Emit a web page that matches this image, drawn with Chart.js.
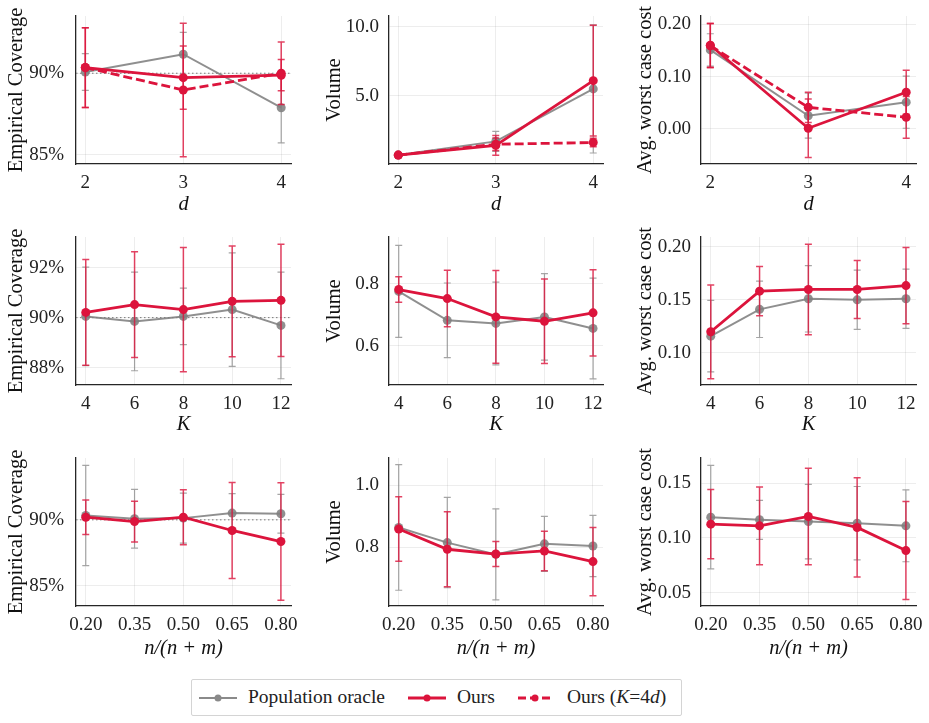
<!DOCTYPE html>
<html>
<head>
<meta charset="utf-8">
<script src="https://cdn.jsdelivr.net/npm/chart.js@4.4.0/dist/chart.umd.min.js"></script>
<style>
  body {
    margin: 0;
    width: 929px;
    height: 723px;
    position: relative;
    overflow: hidden;
    background: #fff;
    font-family: 'Liberation Serif', serif;
  }
  canvas { position: absolute; }
  #legend {
    position: absolute;
    left: 191px;
    top: 679px;
    width: 489px;
    height: 35px;
    border: 1px solid #d4d4d4;
    border-radius: 2px;
    font-size: 19.5px;
    color: #222;
  }
  #legend svg, #legend span { position: absolute; }
  #legend span { top: 6px; white-space: nowrap; }
  #legend svg { top: 12px; }
</style>
</head>
<body>
<div id="legend">
  <svg style="left:7px" width="38" height="12"><line x1="0" y1="6" x2="38" y2="6" stroke="#8a8a8a" stroke-width="2"/><circle cx="19" cy="6" r="3.5" fill="#8a8a8a"/></svg>
  <span style="left:56px">Population oracle</span>
  <svg style="left:216px" width="38" height="12"><line x1="0" y1="6" x2="38" y2="6" stroke="#dc143c" stroke-width="2.8"/><circle cx="19" cy="6" r="3.5" fill="#dc143c"/></svg>
  <span style="left:265px">Ours</span>
  <svg style="left:326px" width="34" height="12"><line x1="0" y1="6" x2="34" y2="6" stroke="#dc143c" stroke-width="2.8" stroke-dasharray="8 4"/><circle cx="17" cy="6" r="3.5" fill="#dc143c"/></svg>
  <span style="left:375px">Ours (<i>K</i>=4<i>d</i>)</span>
</div>
<script>
const dValues = [2, 3, 4]
const kValues = [4, 6, 8, 10, 12]
const ratioValues = [0.2, 0.35, 0.5, 0.65, 0.8]
const TARGET_COVERAGE = 90

// row 1: against d
const covDOracle = [90.08, 91.17, 87.88]
const covDOracleErr = [1.13, 1.34, 2.16]
const covDOurs = [90.35, 89.73, 89.88]
const covDOursErr = [2.45, 1.95, 0.96]
const covDOursK = [90.35, 88.97, 90.0]
const covDOursKErr = [2.45, 4.1, 1.92]

const volDOracle = [0.72, 1.71, 5.5]
const volDOracleErr = [0.05, 0.72, 4.63]
const volDOurs = [0.72, 1.42, 6.1]
const volDOursErr = [0.05, 0.72, 4.0]
const volDOursK = [0.72, 1.5, 1.63]
const volDOursKErr = [0.05, 0.45, 0.3]

const costDOracle = [0.151, 0.025, 0.051]
const costDOracleErr = [0.031, 0.043, 0.05]
const costDOurs = [0.16, 0.001, 0.07]
const costDOursErr = [0.042, 0.056, 0.042]
const costDOursK = [0.159, 0.041, 0.022]
const costDOursKErr = [0.042, 0.029, 0.04]

// row 2: against K
const covKOracle = [90.05, 89.85, 90.05, 90.32, 89.69]
const covKOracleErr = [1.97, 1.97, 1.13, 2.27, 2.13]
const covKOurs = [90.21, 90.52, 90.32, 90.65, 90.69]
const covKOursErr = [2.11, 2.11, 2.48, 2.21, 2.24]

const volKOracle = [0.775, 0.682, 0.672, 0.693, 0.656]
const volKOracleErr = [0.148, 0.12, 0.133, 0.139, 0.162]
const volKOurs = [0.781, 0.752, 0.693, 0.679, 0.706]
const volKOursErr = [0.041, 0.091, 0.149, 0.136, 0.139]

const costKOracle = [0.1157, 0.141, 0.151, 0.15, 0.151]
const costKOracleErr = [0.0337, 0.0266, 0.0314, 0.028, 0.028]
const costKOurs = [0.1198, 0.1582, 0.1598, 0.1598, 0.1635]
const costKOursErr = [0.0443, 0.0233, 0.0428, 0.0274, 0.036]

// row 3: against n/(n+m)
const covROracle = [90.33, 90.08, 90.13, 90.51, 90.46]
const covROracleErr = [3.81, 2.23, 1.9, 1.48, 1.47]
const covROurs = [90.2, 89.87, 90.2, 89.19, 88.35]
const covROursErr = [1.31, 1.55, 2.09, 3.65, 4.47]

const volROracle = [0.864, 0.815, 0.777, 0.811, 0.804]
const volROracleErr = [0.203, 0.146, 0.147, 0.089, 0.099]
const volROurs = [0.859, 0.7935, 0.778, 0.788, 0.7535]
const volROursErr = [0.104, 0.1216, 0.0405, 0.064, 0.11]

const costROracle = [0.1189, 0.1165, 0.1149, 0.1134, 0.111]
const costROracleErr = [0.0473, 0.0178, 0.034, 0.0335, 0.0328]
const costROurs = [0.1125, 0.111, 0.1195, 0.1095, 0.0884]
const costROursErr = [0.0316, 0.0355, 0.044, 0.0453, 0.0447]

// axis ticks and ranges
const dRange = [1.905, 4.1]
const kRange = [3.6, 12.41]
const ratioRange = [0.17, 0.831]
const covDTicks = [85, 90], covDRange = [84.42, 93.52]
const volDTicks = [5, 10], volDRange = [0.076, 10.77]
const costDTicks = [0, 0.1, 0.2], costDRange = [-0.0675, 0.216]
const covKTicks = [88, 90, 92], covKRange = [87.31, 93.22]
const volKTicks = [0.6, 0.8], volKRange = [0.474, 0.95]
const costKTicks = [0.1, 0.15, 0.2], costKRange = [0.0695, 0.2094]
const covRTicks = [85, 90], covRRange = [83.45, 94.7]
const volRTicks = [0.8, 1.0], volRRange = [0.61, 1.0886]
const costRTicks = [0.05, 0.1, 0.15], costRRange = [0.0378, 0.1729]

const RED = '#dc143c'
const GREY = 'rgba(128,128,128,0.88)'
const FONT = "'Liberation Serif', serif"

// layout of the 3x3 grid (pixels)
const cols = [
  { left: 0, axisW: 76, right: 291, tickPad: 12 },
  { left: 318, axisW: 71, right: 603, tickPad: 10 },
  { left: 629, axisW: 72, right: 916, tickPad: 10 }
]
const rows = [
  { top: 0, areaTop: 16, areaBottom: 164, axisH: 57 },
  { top: 221, areaTop: 237, areaBottom: 385, axisH: 56 },
  { top: 442, areaTop: 458, areaBottom: 606, axisH: 59 }
]

const errorBars = {
  id: 'errorBars',
  beforeDatasetDraw(chart, args) {
    const ds = chart.data.datasets[args.index]
    if (!ds.err) return
    const { ctx } = chart
    const xs = chart.scales.x
    const ys = chart.scales.y
    ctx.save()
    ctx.strokeStyle = ds.errColor
    ctx.lineWidth = ds.errWidth
    ds.data.forEach((p, i) => {
      const x = xs.getPixelForValue(p.x)
      const top = ys.getPixelForValue(p.y + ds.err[i])
      const bot = ys.getPixelForValue(p.y - ds.err[i])
      ctx.beginPath()
      ctx.moveTo(x, top)
      ctx.lineTo(x, bot)
      ctx.moveTo(x - 3.5, top)
      ctx.lineTo(x + 3.5, top)
      ctx.moveTo(x - 3.5, bot)
      ctx.lineTo(x + 3.5, bot)
      ctx.stroke()
    })
    ctx.restore()
  }
}

const targetLine = {
  id: 'targetLine',
  beforeDatasetsDraw(chart, args, opts) {
    if (opts.value === undefined) return
    const { ctx, chartArea } = chart
    const y = chart.scales.y.getPixelForValue(opts.value)
    ctx.save()
    ctx.strokeStyle = '#777'
    ctx.lineWidth = 1
    ctx.setLineDash([1.5, 2.5])
    ctx.beginPath()
    ctx.moveTo(chartArea.left, y)
    ctx.lineTo(chartArea.right, y)
    ctx.stroke()
    ctx.restore()
  }
}

const pts = (xs, ys) => xs.map((x, i) => ({ x, y: ys[i] }))

const oracle = (xs, ys, err) => ({
  label: 'Population oracle',
  data: pts(xs, ys),
  err,
  errColor: 'rgba(128,128,128,0.7)',
  errWidth: 1.2,
  borderColor: GREY,
  backgroundColor: GREY,
  borderWidth: 2,
  pointRadius: 4.5,
  pointBorderWidth: 0,
  order: 3
})

const ours = (xs, ys, err) => ({
  label: 'Ours',
  data: pts(xs, ys),
  err,
  errColor: 'rgba(220,20,60,0.8)',
  errWidth: 1.5,
  borderColor: RED,
  backgroundColor: RED,
  borderWidth: 2.8,
  pointRadius: 4.5,
  pointBorderWidth: 0,
  order: 1
})

const oursK = (xs, ys, err) => ({
  ...ours(xs, ys, err),
  label: 'Ours (K=4d)',
  borderDash: [9, 4],
  order: 2
})

const pct = v => v + '%'
const fix = n => v => Number(v).toFixed(n)

const panels = [
  { row: 0, col: 0, xv: dValues, xr: dRange, xf: fix(0), xt: 'd', yt: 'Empirical Coverage', yv: covDTicks, yr: covDRange, yf: pct, target: TARGET_COVERAGE,
    sets: [oracle(dValues, covDOracle, covDOracleErr), ours(dValues, covDOurs, covDOursErr), oursK(dValues, covDOursK, covDOursKErr)] },
  { row: 0, col: 1, xv: dValues, xr: dRange, xf: fix(0), xt: 'd', yt: 'Volume', yv: volDTicks, yr: volDRange, yf: fix(1),
    sets: [oracle(dValues, volDOracle, volDOracleErr), ours(dValues, volDOurs, volDOursErr), oursK(dValues, volDOursK, volDOursKErr)] },
  { row: 0, col: 2, xv: dValues, xr: dRange, xf: fix(0), xt: 'd', yt: 'Avg. worst case cost', yv: costDTicks, yr: costDRange, yf: fix(2),
    sets: [oracle(dValues, costDOracle, costDOracleErr), ours(dValues, costDOurs, costDOursErr), oursK(dValues, costDOursK, costDOursKErr)] },
  { row: 1, col: 0, xv: kValues, xr: kRange, xf: fix(0), xt: 'K', yt: 'Empirical Coverage', yv: covKTicks, yr: covKRange, yf: pct, target: TARGET_COVERAGE,
    sets: [oracle(kValues, covKOracle, covKOracleErr), ours(kValues, covKOurs, covKOursErr)] },
  { row: 1, col: 1, xv: kValues, xr: kRange, xf: fix(0), xt: 'K', yt: 'Volume', yv: volKTicks, yr: volKRange, yf: fix(1),
    sets: [oracle(kValues, volKOracle, volKOracleErr), ours(kValues, volKOurs, volKOursErr)] },
  { row: 1, col: 2, xv: kValues, xr: kRange, xf: fix(0), xt: 'K', yt: 'Avg. worst case cost', yv: costKTicks, yr: costKRange, yf: fix(2),
    sets: [oracle(kValues, costKOracle, costKOracleErr), ours(kValues, costKOurs, costKOursErr)] },
  { row: 2, col: 0, xv: ratioValues, xr: ratioRange, xf: fix(2), xt: 'n/(n + m)', yt: 'Empirical Coverage', yv: covRTicks, yr: covRRange, yf: pct, target: TARGET_COVERAGE,
    sets: [oracle(ratioValues, covROracle, covROracleErr), ours(ratioValues, covROurs, covROursErr)] },
  { row: 2, col: 1, xv: ratioValues, xr: ratioRange, xf: fix(2), xt: 'n/(n + m)', yt: 'Volume', yv: volRTicks, yr: volRRange, yf: fix(1),
    sets: [oracle(ratioValues, volROracle, volROracleErr), ours(ratioValues, volROurs, volROursErr)] },
  { row: 2, col: 2, xv: ratioValues, xr: ratioRange, xf: fix(2), xt: 'n/(n + m)', yt: 'Avg. worst case cost', yv: costRTicks, yr: costRRange, yf: fix(2),
    sets: [oracle(ratioValues, costROracle, costROracleErr), ours(ratioValues, costROurs, costROursErr)] }
]

const gridStyle = { color: 'rgba(0,0,0,0.07)', lineWidth: 1, drawTicks: false }
const borderStyle = { display: true, color: '#262626', width: 1.3 }

// pin the plot area: fixed axis sizes, no automatic label overflow padding
const pinX = h => s => {
  s.height = h
  s.paddingLeft = 0
  s.paddingRight = 0
}
const pinY = w => s => {
  s.width = w
  s.paddingTop = 0
  s.paddingBottom = 0
}

panels.forEach(p => {
  const c = cols[p.col]
  const r = rows[p.row]
  const padTop = r.areaTop - r.top
  const padRight = 20
  const canvas = document.createElement('canvas')
  canvas.width = c.right + padRight - c.left
  canvas.height = r.areaBottom + r.axisH - r.top
  canvas.style.left = c.left + 'px'
  canvas.style.top = r.top + 'px'
  document.body.appendChild(canvas)

  new Chart(canvas.getContext('2d'), {
    type: 'line',
    data: { datasets: p.sets },
    plugins: [errorBars, targetLine],
    options: {
      responsive: false,
      animation: false,
      devicePixelRatio: 1,
      layout: { padding: { top: padTop, right: padRight, left: 0, bottom: 0 } },
      scales: {
        x: {
          type: 'linear',
          min: p.xr[0],
          max: p.xr[1],
          afterBuildTicks: s => { s.ticks = p.xv.map(value => ({ value })) },
          afterFit: pinX(r.axisH),
          ticks: { callback: p.xf, color: '#222', padding: 7.5, maxRotation: 0, font: { family: FONT, size: 19 } },
          grid: gridStyle,
          border: borderStyle,
          title: { display: true, text: p.xt, color: '#111', font: { family: FONT, size: 20.5, style: 'italic' } }
        },
        y: {
          type: 'linear',
          min: p.yr[0],
          max: p.yr[1],
          afterBuildTicks: s => { s.ticks = p.yv.map(value => ({ value })) },
          afterFit: pinY(c.axisW),
          ticks: { callback: p.yf, color: '#222', padding: c.tickPad, font: { family: FONT, size: 19 } },
          grid: gridStyle,
          border: borderStyle,
          title: { display: true, text: p.yt, color: '#111', font: { family: FONT, size: 20.5 } }
        }
      },
      plugins: {
        legend: { display: false },
        tooltip: { enabled: false },
        targetLine: { value: p.target }
      }
    }
  })
})
</script>
</body>
</html>
